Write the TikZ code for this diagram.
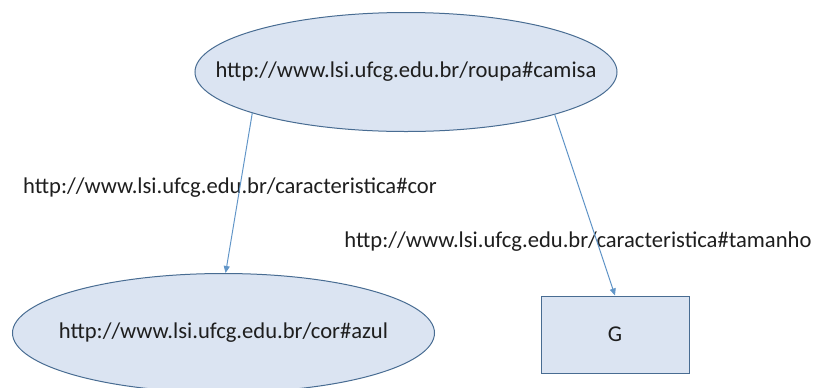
\documentclass[tikz,border=0pt]{standalone}
\usepackage{fontspec}
\setmainfont{Carlito}
\usetikzlibrary{shapes.geometric,arrows.meta}

\definecolor{preench}{RGB}{219,228,242}
\definecolor{borda}{RGB}{72,108,146}
\definecolor{seta}{RGB}{98,150,200}
\definecolor{texto}{RGB}{30,30,30}

\begin{document}
\begin{tikzpicture}[x=0.5pt,y=-0.5pt]
\tikzstyle{recurso}=[ellipse,draw=borda,fill=preench,line width=0.5pt,inner sep=0pt,minimum width=211pt,minimum height=59.5pt,text=texto,font=\fontsize{11.3}{13}\selectfont]
\tikzstyle{literal}=[rectangle,draw=borda,fill=preench,line width=0.5pt,inner sep=0pt,minimum width=74pt,minimum height=38.5pt,text=texto,font=\fontsize{11.3}{13}\selectfont]
\tikzstyle{rotulo}=[inner sep=0pt,text=texto,font=\fontsize{11.3}{13}\selectfont]
\tikzstyle{aresta}=[draw=seta,line width=0.5pt,-{Triangle[length=3.5pt,width=3pt]}]

\useasboundingbox (0,0) rectangle (815,387);

\node (camisa) at (406,72) [recurso] {\makebox[0pt]{http://www.lsi.ufcg.edu.br/roupa\#camisa}};
\node (azul) at (223.5,333) [recurso] {\makebox[0pt]{http://www.lsi.ufcg.edu.br/cor\#azul}};
\node (tam) at (615,334.5) [literal] {G};

\node (cor) at (230,188) [rotulo] {http://www.lsi.ufcg.edu.br/caracteristica\#cor};
\node (tamanho) at (578,242) [rotulo] {http://www.lsi.ufcg.edu.br/caracteristica\#tamanho};

\draw [aresta] (camisa.195) -- (azul.88);
\draw [aresta] (camisa.-16) -- (tam.north);

\end{tikzpicture}
\end{document}
